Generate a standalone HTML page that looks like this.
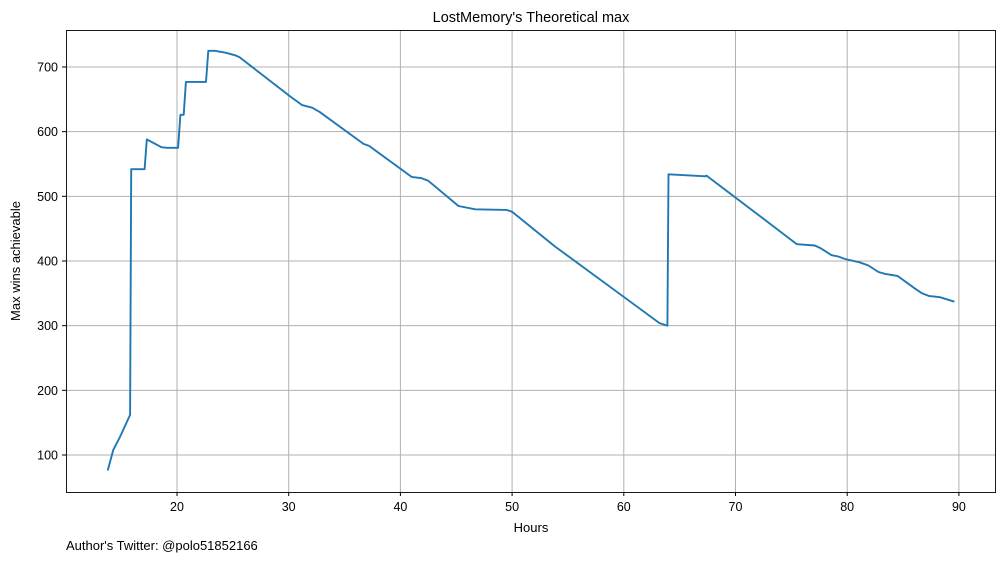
<!DOCTYPE html>
<html><head><meta charset="utf-8"><style>
body{margin:0;background:#fff;}
svg text{font-family:"Liberation Sans","DejaVu Sans",sans-serif;fill:#000;}
</style></head><body>
<svg id="chart" width="1005" height="562">
<text x="531" y="22" text-anchor="middle" font-size="14.5">LostMemory's Theoretical max</text>
<g id="grid"></g>
<g id="ticks"></g>
<path id="line" fill="none" stroke="#1f77b4" stroke-width="1.9" stroke-linejoin="round"></path>
<rect x="66.5" y="30.5" width="929" height="462" fill="none" stroke="#000" stroke-width="0.9"/>
<text x="531" y="532" text-anchor="middle" font-size="13">Hours</text>
<text transform="translate(20,261) rotate(-90)" text-anchor="middle" font-size="13">Max wins achievable</text>
<text x="66" y="550" font-size="13">Author's Twitter: @polo51852166</text>
</svg>
<script>
const hours=[13.8,14.3,14.9,15.8,15.9,17.1,17.3,18.6,19.1,20.1,20.3,20.6,20.8,22.2,22.6,22.8,23.4,24.4,25.2,25.6,30.1,31.2,32.1,32.8,36.7,37.2,41.0,41.9,42.5,45.2,46.7,49.5,50.0,53.8,63.2,63.9,64.0,67.3,67.4,75.5,77.1,77.6,78.6,79.2,79.8,81.1,81.9,82.8,83.4,84.5,86.1,86.7,87.3,88.3,89.6];
const wins=[76,108,128,162,542,542,588,576,575,575,626,626,677,677,677,725,725,722,718,715,655,641,637,630,581,578,530,528,524,485,480,479,476,423,304,300,534,531,532,426,424,420,409,407,403,398,393,383,380,377,357,350,346,344,337];
const xTicks=[20,30,40,50,60,70,80,90];
const yTicks=[100,200,300,400,500,600,700];
const X=h=>177+(h-20)*11.17;
const Y=v=>455-(v-100)*0.6467;
const NS="http://www.w3.org/2000/svg";
const grid=document.getElementById('grid'),ticks=document.getElementById('ticks');
function mk(t,a,p){const e=document.createElementNS(NS,t);for(const k in a)e.setAttribute(k,a[k]);p.appendChild(e);return e;}
xTicks.forEach(t=>{const x=X(t);
const g=mk('line',{x1:x,x2:x,y1:31,y2:492,stroke:'#b0b0b0','stroke-width':1},grid);


mk('line',{x1:x,x2:x,y1:492,y2:496,stroke:'#000'},ticks);
const l=mk('text',{x:x,y:511,'text-anchor':'middle','font-size':12.5},ticks);l.textContent=t;

});
yTicks.forEach(t=>{const y=Y(t);
const g=mk('line',{x1:67,x2:996,y1:y,y2:y,stroke:'#b0b0b0','stroke-width':1},grid);


mk('line',{x1:62,x2:66,y1:y,y2:y,stroke:'#000'},ticks);
const l=mk('text',{x:58,y:y+4.5,'text-anchor':'end','font-size':12.5},ticks);l.textContent=t;

});
document.getElementById('line').setAttribute('d',hours.map((h,i)=>(i?'L':'M')+X(h).toFixed(1)+','+Y(wins[i]).toFixed(1)).join(''));
</script>
</body></html>
